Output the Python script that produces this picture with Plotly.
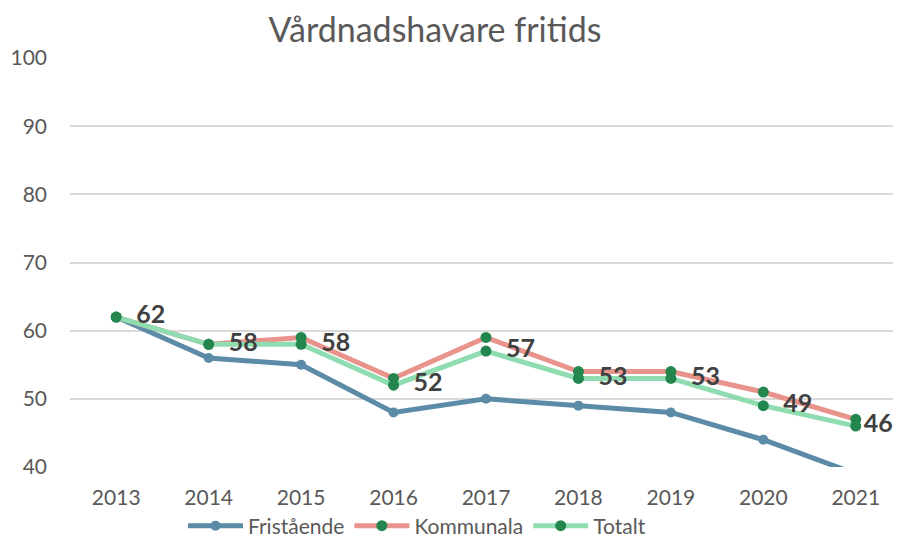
import plotly.graph_objects as go

years = ["2013", "2014", "2015", "2016", "2017", "2018", "2019", "2020", "2021"]
fristaende = [62, 56, 55, 48, 50, 49, 48, 44, 39]
kommunala = [62, 58, 59, 53, 59, 54, 54, 51, 47]
totalt = [62, 58, 58, 52, 57, 53, 53, 49, 46]
y_ticks = [40, 50, 60, 70, 80, 90, 100]

FONT = "Lato, 'Open Sans', sans-serif"
marker_green = "#23864e"
W, H = 901, 537
OFF = 8  # page body margin offset

labels = ["  " + str(v) for v in totalt]
labels[-1] = str(totalt[-1])

fig = go.Figure()
fig.add_trace(go.Scatter(
    x=years, y=fristaende, name="Fristående", mode="lines+markers",
    line=dict(color="#5b8ba6", width=5), marker=dict(color="#5b8ba6", size=10),
))
fig.add_trace(go.Scatter(
    x=years, y=kommunala, name="Kommunala", mode="lines+markers",
    line=dict(color="#e8938c", width=5), marker=dict(color=marker_green, size=11),
))
fig.add_trace(go.Scatter(
    x=years, y=totalt, name="Totalt", mode="lines+markers+text",
    line=dict(color="#8fdcb0", width=5), marker=dict(color=marker_green, size=11),
    text=labels, textposition="middle right",
    textfont=dict(family=FONT, size=25, color="#404040", weight="bold"),
    cliponaxis=False,
))

fig.update_layout(
    width=W, height=H,
    margin=dict(l=70 - OFF, r=7, t=58 - OFF, b=H - (467 - OFF), autoexpand=False),
    paper_bgcolor="white", plot_bgcolor="white",
    title=dict(text="Vårdnadshavare fritids", x=(435 - OFF) / W, xanchor="center",
               y=1 - (30 - OFF) / H, yref="container", yanchor="middle",
               font=dict(family=FONT, size=34, color="#595959")),
    showlegend=True,
    legend=dict(orientation="h", x=(417 - OFF) / W, xref="container", xanchor="center",
                y=1 - (526 - OFF) / H, yref="container", yanchor="middle",
                font=dict(family=FONT, size=21, color="#595959"),
                itemwidth=55, tracegroupgap=0),
    xaxis=dict(type="category", range=[-0.5, 8.5], showgrid=False, showline=False,
               ticks="", automargin=False, ticklabelstandoff=16,
               tickfont=dict(family=FONT, size=21, color="#595959"),
               fixedrange=True),
    yaxis=dict(range=[40, 100], tickvals=y_ticks, showgrid=True, gridcolor="#d9d9d9",
               gridwidth=2, zeroline=False, showline=False, ticks="",
               automargin=False, ticklabelstandoff=22,
               tickfont=dict(family=FONT, size=21, color="#595959")),
)

fig.write_html("out.html")
